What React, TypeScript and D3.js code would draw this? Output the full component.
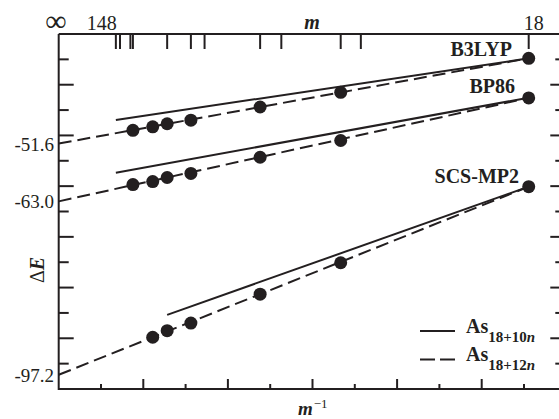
import React from "react";
import * as d3 from "d3";

// ---- data ----
const methods = ["B3LYP", "BP86", "SCS-MP2"];
// cluster sizes m (dots on the As(18+12n) series)
const mB3LYP = [18, 30, 42, 64, 78, 90, 114];
const eB3LYP = [-34.8, -41.5, -44.4, -47.0, -47.7, -48.3, -49.0];
const mBP86 = [18, 30, 42, 64, 78, 90, 114];
const eBP86 = [-42.6, -51.0, -54.3, -57.5, -58.3, -59.1, -59.7];
const mSCS = [18, 30, 42, 64, 78, 90];
const eSCS = [-60.1, -75.1, -81.3, -87.0, -88.5, -89.8];
// linear fits dE = a + b / m
const dashedIntercepts = [-51.6, -63.0, -97.2]; // As(18+12n), extrapolated to m = infinity
const dashedSlopes = [302.4, 367.0, 667.8];
const solidIntercepts = [-48.65, -59.4, -92.96]; // As(18+10n)
const solidSlopes = [249.3, 303.0, 591.5];
const solidStartM = [148, 148, 78];
const fitEndM = 18;
// axis ticks
const topTickM = [148, 138, 118, 114, 78, 64, 58, 42, 38, 30, 28, 18];
const bottomTicks = [0.005, 0.01, 0.015, 0.02, 0.025, 0.03, 0.035, 0.04, 0.045, 0.05, 0.055];
const yTicks = [-95, -90, -85, -80, -75, -70, -65, -60, -55, -50, -45, -40, -35];
const interceptLabels = ["-51.6", "-63.0", "-97.2"];

const W = 559;
const H = 419;
const left = 58.7;
const right = 566.3;
const top = 34;
const bottom = 389;

export default function App() {
  const x = d3.scaleLinear().domain([0, 0.06]).range([left, right]);
  const y = d3.scaleLinear().domain([-100, -30]).range([bottom, top]);
  const line = d3
    .line<[number, number]>()
    .x((d) => x(d[0]))
    .y((d) => y(d[1]));

  const series = [
    { m: mB3LYP, e: eB3LYP },
    { m: mBP86, e: eBP86 },
    { m: mSCS, e: eSCS },
  ];
  const font = "'Liberation Serif', 'Times New Roman', serif";
  const labelPos = [
    { x: 512, y: 56 },
    { x: 515, y: 93 },
    { x: 519, y: 183 },
  ];

  return (
    <svg
      width={W}
      height={H}
      style={{ position: "absolute", left: 0, top: 0, background: "#fff" }}
      fontFamily={font}
    >
      <rect x={0} y={0} width={W} height={H} fill="#fff" />
      {/* frame */}
      <g stroke="#231f20" strokeWidth={2} fill="none">
        <line x1={left} y1={top} x2={right} y2={top} />
        <line x1={left} y1={top} x2={left} y2={bottom + 1} />
        <line x1={left} y1={bottom} x2={right} y2={bottom} />
        <line x1={right - 1} y1={top} x2={right - 1} y2={bottom} />
      </g>
      {/* left / right ticks */}
      <g stroke="#231f20" strokeWidth={2}>
        {yTicks.map((v) => {
          const major = Math.abs(v % 10) < 1e-6;
          const len = major ? 15 : 10;
          return (
            <g key={v}>
              <line x1={left} x2={left + len} y1={y(v)} y2={y(v)} />
              <line x1={right - 1} x2={right - 1 - len} y1={y(v)} y2={y(v)} />
            </g>
          );
        })}
        {bottomTicks.map((v) => {
          const major = Math.abs((v * 1000) % 10) < 1e-6;
          const len = major ? 10 : 5;
          return <line key={v} x1={x(v)} x2={x(v)} y1={bottom} y2={bottom - len} />;
        })}
        {topTickM.map((m) => (
          <line key={m} x1={x(1 / m)} x2={x(1 / m)} y1={top} y2={top + 15} />
        ))}
      </g>
      {/* top axis labels */}
      <text x={56} y={31} fontSize={30} textAnchor="middle" fill="#231f20">
        ∞
      </text>
      <text x={x(1 / 148) + 1} y={30} fontSize={20} textAnchor="end" fill="#231f20">
        148
      </text>
      <text x={x(1 / 18) - 5} y={30} fontSize={20} textAnchor="start" fill="#231f20">
        18
      </text>
      <text x={312} y={29} fontSize={20} fontWeight="bold" fontStyle="italic" textAnchor="middle" fill="#231f20">
        m
      </text>
      {/* intercept labels on y axis */}
      {dashedIntercepts.map((a, i) => (
        <text key={i} x={54} y={y(a) + 7} fontSize={19} textAnchor="end" fill="#231f20">
          {interceptLabels[i]}
        </text>
      ))}
      {/* axis titles */}
      <text
        transform="translate(44,270) rotate(-90)"
        fontSize={20}
        textAnchor="middle"
        fill="#231f20"
      >
        Δ<tspan fontStyle="italic" fontWeight="bold">E</tspan>
      </text>
      <text x={298} y={415} fontSize={19} fill="#231f20">
        <tspan fontStyle="italic" fontWeight="bold">m</tspan>
        <tspan fontSize={13} dy={-7} dx={1}>−1</tspan>
      </text>
      {/* fits */}
      <g fill="none" stroke="#231f20" strokeWidth={2}>
        {dashedIntercepts.map((a, i) => (
          <path
            key={"d" + i}
            d={line([
              [0, a],
              [1 / fitEndM, a + dashedSlopes[i] / fitEndM],
            ])!}
            strokeDasharray="13,6"
          />
        ))}
        {solidIntercepts.map((a, i) => (
          <path
            key={"s" + i}
            d={line([
              [1 / solidStartM[i], a + solidSlopes[i] / solidStartM[i]],
              [1 / fitEndM, a + solidSlopes[i] / fitEndM],
            ])!}
          />
        ))}
      </g>
      {/* dots */}
      <g fill="#231f20">
        {series.map((s, i) =>
          s.m.map((m, j) => <circle key={i + "-" + j} cx={x(1 / m)} cy={y(s.e[j])} r={6.5} />)
        )}
      </g>
      {/* method labels */}
      {methods.map((name, i) => (
        <text
          key={name}
          x={labelPos[i].x}
          y={labelPos[i].y}
          fontSize={20}
          fontWeight="bold"
          textAnchor="end"
          fill="#231f20"
        >
          {name}
        </text>
      ))}
      {/* legend */}
      <g stroke="#231f20" strokeWidth={2}>
        <line x1={420} x2={455} y1={331} y2={331} />
        <line x1={420} x2={455} y1={359.5} y2={359.5} strokeDasharray="15,5" />
      </g>
      <text x={466} y={333} fontSize={20} fontWeight="bold" fill="#231f20">
        As
        <tspan fontSize={15} dy={9}>
          18+10<tspan fontStyle="italic">n</tspan>
        </tspan>
      </text>
      <text x={466} y={361} fontSize={20} fontWeight="bold" fill="#231f20">
        As
        <tspan fontSize={15} dy={9}>
          18+12<tspan fontStyle="italic">n</tspan>
        </tspan>
      </text>
    </svg>
  );
}
